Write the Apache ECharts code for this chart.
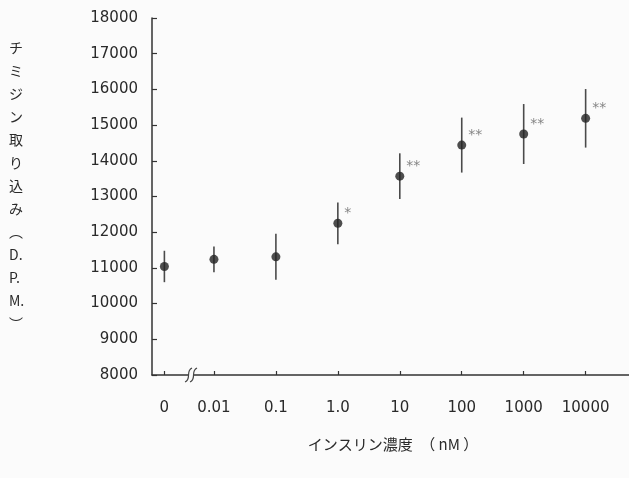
<!DOCTYPE html>
<html>
<head>
<meta charset="utf-8">
<script src="https://cdn.jsdelivr.net/npm/echarts@6/dist/echarts.min.js"></script>
<style>
html,body{margin:0;padding:0;background:#fbfbfb;}
#c{width:629px;height:478px;}
</style>
</head>
<body>
<div id="c"></div>
<script>
// ---- data ----
const categories = ['0', '0.01', '0.1', '1.0', '10', '100', '1000', '10000'];
const means = [11040, 11240, 11310, 12250, 13570, 14440, 14750, 15190];
const errors = [440, 360, 645, 585, 640, 770, 840, 820];
const signif = ['', '', '', '*', '**', '**', '**', '**'];
const yTicks = [8000, 9000, 10000, 11000, 12000, 13000, 14000, 15000, 16000, 17000, 18000];
const yTitle = ['チ', 'ミ', 'ジ', 'ン', '取', 'り', '込', 'み', '︵', 'D.', 'P.', 'M.', '︶'];
const xTitle = 'インスリン濃度　（ nM ）';

// log10 scale for x; the zero dose is placed before the axis break
const ZERO_POS = -2.8;
const BREAK_POS = -2.37;
const xPos = categories.map(c => (+c === 0 ? ZERO_POS : Math.log10(+c)));

const points = xPos.map((x, i) => ({ value: [x, means[i]], sig: signif[i] }));
const bars = xPos.map((x, i) => [x, means[i] - errors[i], means[i] + errors[i]]);

const chart = echarts.init(document.getElementById('c'), null, { renderer: 'canvas' });
const axisColor = '#333';
const FONT = 'DejaVu Sans';

chart.setOption({
  backgroundColor: '#fbfbfb',
  animation: false,
  grid: { left: 152, right: 0, top: 18, bottom: 103, containLabel: false },
  title: {
    text: xTitle,
    left: 388, top: 432, textAlign: 'center',
    textStyle: { fontFamily: 'Noto Sans CJK JP', fontSize: 15, fontWeight: 'normal', color: '#2a2a2a' }
  },
  graphic: [{
    type: 'text', left: 9, top: 36,
    style: {
      text: yTitle.join('\n'),
      font: '14px "Noto Sans CJK JP"',
      lineHeight: 23,
      fill: '#2a2a2a',
      align: 'left'
    }
  }],
  xAxis: {
    type: 'value', min: -3, max: 4.7,
    axisLine: { show: true, onZero: false, lineStyle: { color: axisColor, width: 1.5 } },
    axisTick: { show: true, inside: true, length: 4, customValues: xPos, lineStyle: { color: axisColor, width: 1.2 } },
    axisLabel: {
      customValues: xPos, margin: 26,
      fontFamily: FONT, fontSize: 15, color: '#2a2a2a',
      formatter: v => { const i = xPos.findIndex(p => Math.abs(p - v) < 1e-6); return i >= 0 ? categories[i] : ''; }
    },
    splitLine: { show: false }
  },
  yAxis: {
    type: 'value', min: yTicks[0], max: yTicks[yTicks.length - 1], interval: 1000,
    axisLine: { show: true, onZero: false, lineStyle: { color: axisColor, width: 1.5 } },
    axisTick: { show: true, inside: true, length: 5, lineStyle: { color: axisColor, width: 1.2 } },
    axisLabel: { margin: 14, fontFamily: FONT, fontSize: 15, color: '#2a2a2a', formatter: v => String(v) },
    splitLine: { show: false }
  },
  series: [
    {
      type: 'custom', name: 'err',
      renderItem: (params, api) => {
        const top = api.coord([api.value(0), api.value(2)]);
        const bot = api.coord([api.value(0), api.value(1)]);
        return { type: 'line', shape: { x1: top[0], y1: top[1], x2: bot[0], y2: bot[1] },
                 style: { stroke: '#4a4a4a', lineWidth: 1.6 } };
      },
      data: bars, z: 2
    },
    {
      type: 'scatter', symbol: 'circle', symbolSize: 9,
      itemStyle: { color: '#222' },
      label: {
        show: true, position: [11, -5], align: 'left', verticalAlign: 'middle',
        formatter: p => p.data.sig, fontFamily: FONT, fontSize: 14, color: '#666'
      },
      data: points, z: 3
    },
    {
      type: 'custom', name: 'break',
      renderItem: (params, api) => {
        const c = api.coord([api.value(0), api.value(1)]);
        const x = c[0], y = c[1];
        const s = (dx) => ({
          type: 'bezierCurve',
          shape: { x1: x + dx + 3.5, y1: y - 7, cpx1: x + dx - 3.5, cpy1: y - 4, cpx2: x + dx + 3.5, cpy2: y + 4, x2: x + dx - 3.5, y2: y + 7 },
          style: { stroke: '#444', lineWidth: 1.2, fill: null }
        });
        return { type: 'group', children: [
          { type: 'rect', shape: { x: x - 3, y: y - 2, width: 6, height: 4 }, style: { fill: '#fbfbfb' } },
          s(-2.5), s(2.5)
        ] };
      },
      data: [[BREAK_POS, yTicks[0]]], z: 4, clip: false
    }
  ]
});
</script>
</body>
</html>
